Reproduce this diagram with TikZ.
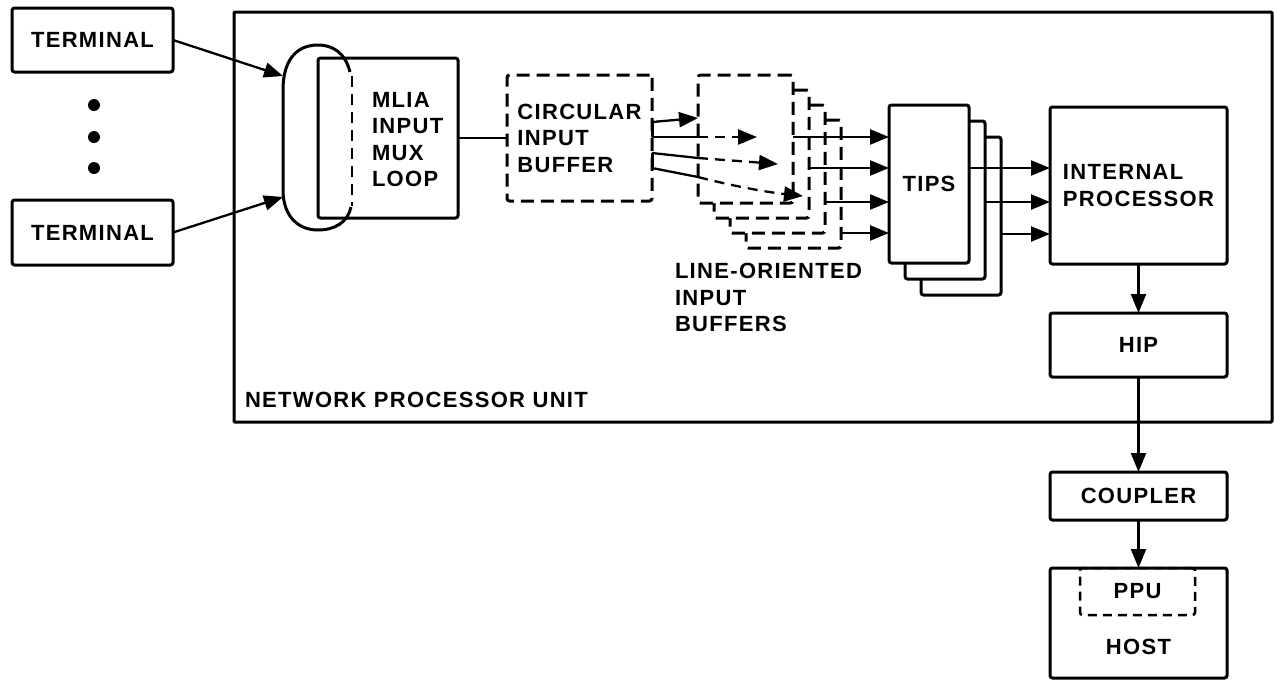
\documentclass[tikz,border=0pt]{standalone}
\usepackage{fontspec}
\setmainfont{Liberation Sans}[LetterSpace=6]
\usetikzlibrary{arrows.meta}
\begin{document}
\begin{tikzpicture}[x=1pt,y=-1pt,
  font=\fontsize{22}{26.5}\selectfont\bfseries,
  box/.style={draw, line width=3pt, rounded corners=2.5pt, fill=white, inner sep=0pt, outer sep=0pt, anchor=north west},
  dbox/.style={box, line width=3pt, dash pattern=on 13pt off 7pt},
  conn/.style={line width=2.3pt, -{Triangle[length=19pt,width=15pt]}},
  dconn/.style={conn, dash pattern=on 10pt off 7pt},
  plain/.style={line width=2.3pt},
  txt/.style={inner sep=0pt, outer sep=0pt, align=left},
  dotnode/.style={circle, fill, inner sep=0pt, minimum size=12pt}]
\useasboundingbox (0,0) rectangle (1275,681);
% network processor unit
\node[box, fill=none, rounded corners=1pt, minimum width=1038, minimum height=410] (npu) at (234,12) {};
\node[txt, anchor=base west] (npulbl) at (245,407) {NETWORK PROCESSOR UNIT};
% terminals
\node[box, minimum width=161, minimum height=64] (term1) at (12,8) {TERMINAL};
\node[box, minimum width=161, minimum height=65] (term2) at (12,200) {TERMINAL};
\node[dotnode] (dot1) at (94,105) {};
\node[dotnode] (dot2) at (94,137) {};
\node[dotnode] (dot3) at (94,168) {};
% MLIA
\node[box, minimum width=140, minimum height=160] (mlia) at (318,58) {};
\node[txt, anchor=west] (mliatxt) at (372,139.5) {MLIA\\INPUT\\MUX\\LOOP};
\draw[line width=3pt] (350,72) .. controls (345,52) and (332,45) .. (318,45)
  .. controls (295,45) and (283,62) .. (283,90) -- (283,190)
  .. controls (283,215) and (297,230) .. (318,230)
  .. controls (335,230) and (348,222) .. (351,207);
\draw[line width=2.5pt, dash pattern=on 11pt off 7pt] (352,76) -- (352,206);
\coordinate (loopin1) at (283,76);
\coordinate (loopin2) at (283,197);
\draw[conn] (term1.east) -- (loopin1);
\draw[conn] (term2.east) -- (loopin2);
% circular input buffer
\node[dbox, minimum width=145, minimum height=126, align=left] (cib) at (507,75) {CIRCULAR\\INPUT\\BUFFER};
\draw[plain] (mlia.east) -- (cib.west);
% line-oriented input buffers
\foreach \k in {3,2,1,0}
  \node[dbox, minimum width=95, minimum height=128] (lob\k) at ({698+16*\k},{75+15*\k}) {};
\node[txt, anchor=west] (lobtxt) at (675,297.5) {LINE-ORIENTED\\INPUT\\BUFFERS};
% arrows from circular buffer into line buffers
\coordinate (c1) at (652,122);
\coordinate (c2) at (652,137);
\coordinate (c3) at (652,153);
\coordinate (c4) at (652,168);
\coordinate (a1) at (698,118);
\coordinate (b2) at (698,137);
\coordinate (a2) at (757,137);
\coordinate (b3) at (698,158);
\coordinate (a3) at (778,164);
\coordinate (b4) at (698,177);
\coordinate (a4) at (803,196);
\draw[line width=3pt] (c1) -- (c2);
\draw[line width=3pt] (c3) -- (c4);
\draw[conn] (c1) -- (a1);
\draw[plain] (c2) -- (b2);
\draw[dconn] (b2) -- (a2);
\draw[plain] (c3) -- (b3);
\draw[dconn] (b3) -- (a3);
\draw[plain] (c4) -- (b4);
\draw[dconn] (b4) .. controls (745,189) and (775,193) .. (a4);
% TIPS
\node[box, minimum width=80, minimum height=158] (tips2) at (921,137) {};
\node[box, minimum width=80, minimum height=158] (tips1) at (905,121) {};
\node[box, minimum width=80, minimum height=158] (tips0) at (889,105) {TIPS};
% outputs of line buffers to TIPS
\coordinate (o0) at ([yshift=-62pt]lob0.north east);
\coordinate (o1) at ([yshift=-78pt]lob1.north east);
\coordinate (o2) at ([yshift=-97pt]lob2.north east);
\coordinate (o3) at ([yshift=-113pt]lob3.north east);
\foreach \k in {0,1,2,3}
  \draw[conn] (o\k) -- (o\k -| tips0.west);
% internal processor
\node[box, minimum width=177, minimum height=157, align=left] (ip) at (1050,107) {INTERNAL\\PROCESSOR};
\coordinate (p0) at ([yshift=-63pt]tips0.north east);
\coordinate (p1) at ([yshift=-81pt]tips1.north east);
\coordinate (p2) at ([yshift=-97pt]tips2.north east);
\foreach \k in {0,1,2}
  \draw[conn] (p\k) -- (p\k -| ip.west);
% HIP, coupler, host
\node[box, minimum width=177, minimum height=64] (hip) at (1050,313) {HIP};
\node[box, minimum width=177, minimum height=48] (coupler) at (1050,472) {COUPLER};
\node[box, minimum width=177, minimum height=110] (host) at (1050,568) {};
\node[box, fill=none, line width=2.5pt, dash pattern=on 9pt off 6pt, minimum width=115, minimum height=47] (ppu) at (1080,568) {PPU};
\node[txt] (hosttxt) at (1138.5,647) {HOST};
\draw[conn] (ip.south) -- (hip.north);
\draw[conn] (hip.south) -- (coupler.north);
\draw[conn] (coupler.south) -- (host.north);
\end{tikzpicture}
\end{document}
